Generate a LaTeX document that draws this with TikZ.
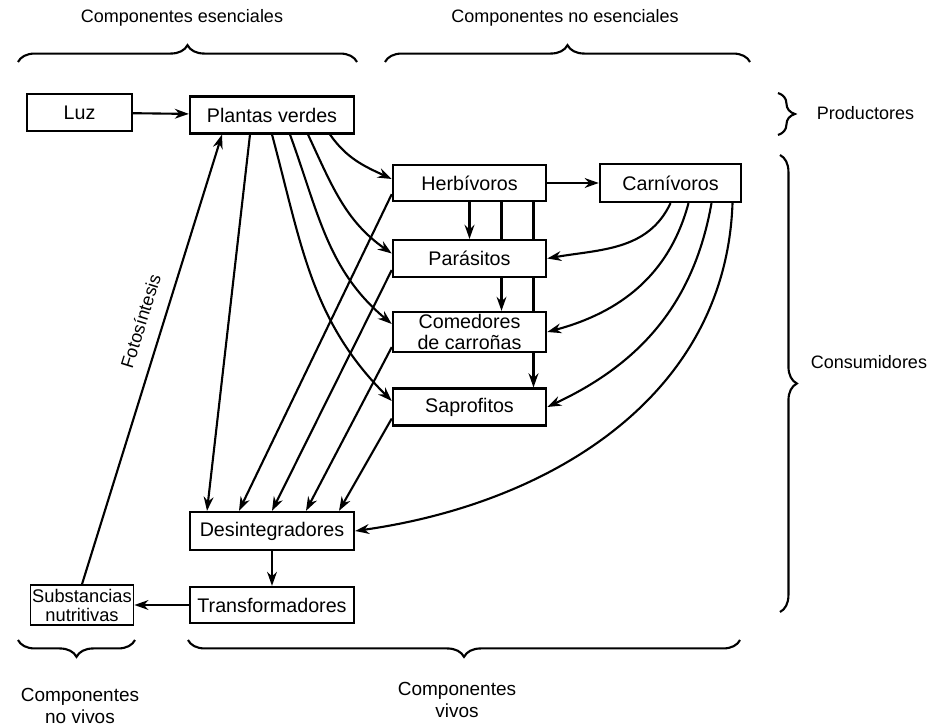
\documentclass[tikz,border=0pt]{standalone}
\usepackage{fontspec}
\setmainfont{Liberation Sans}
\usetikzlibrary{positioning,calc,arrows.meta,decorations.pathreplacing}

\begin{document}
\begin{tikzpicture}[
    x=0.025cm, y=0.025cm,
    >={Stealth[length=10pt,width=7pt]},
    every node/.style={font=\fontsize{12.8}{14}\selectfont},
    box/.style={rectangle, draw=black, line width=1.6pt, fill=white, inner sep=1pt, minimum height=0.92cm, align=center, font=\fontsize{14}{14.5}\selectfont},
    flow/.style={->, line width=1.5pt},
    curly/.style={decorate, decoration={brace, amplitude=12pt}, line width=1.5pt},
  ]
  \useasboundingbox (0,0) rectangle (945,-728);

  % cajas
  \node[box, minimum width=2.62cm] (luz) at (79.5,-112.5) {Luz};
  \node[box, minimum width=4.1cm] (plantas) at (272,-115) {Plantas verdes};
  \node[box, minimum width=3.83cm, minimum height=0.9cm] (herb) at (469.5,-183) {Herbívoros};
  \node[box, minimum width=3.53cm, minimum height=0.95cm] (carn) at (670.5,-183) {Carnívoros};
  \node[box, minimum width=3.83cm] (para) at (469.5,-258.5) {Parásitos};
  \node[box, minimum width=3.83cm, minimum height=1cm] (come) at (469.5,-332) {Comedores\\de carroñas};
  \node[box, minimum width=3.83cm] (sapro) at (469.5,-407) {Saprofitos};
  \node[box, minimum width=4.1cm, minimum height=0.95cm] (desin) at (272,-531) {Desintegradores};
  \node[box, minimum width=4.1cm, minimum height=0.9cm] (trans) at (272,-605) {Transformadores};
  \node[box, minimum width=2.58cm, minimum height=1cm, inner sep=0pt, line width=1.1pt, font=\fontsize{13}{13.5}\selectfont] (subst) at (82,-605) {Substancias\\nutritivas};

  % flechas
  \draw[flow] (luz) -- (plantas);
  \draw[flow] (herb) -- (carn);
  \draw[flow] ($(plantas.south)+(58,0)$) to[out=-55, in=155] ($(herb.west)+(0,4)$);
  \draw[flow] ($(plantas.south)+(36,0)$) to[out=-65, in=145] ($(para.west)+(0,5)$);
  \draw[flow] ($(plantas.south)+(18,0)$) to[out=-70, in=140] ($(come.west)+(0,8)$);
  \draw[flow] (plantas.south) to[out=-75, in=135] ($(sapro.west)+(0,6)$);
  \draw[flow] ($(plantas.south)+(-22,0)$) -- ($(desin.north)+(-65,0)$);
  \draw[flow] ($(herb.south west)+(0,8)$) -- ($(desin.north)+(-33,0)$);
  \draw[flow] ($(para.south west)+(0,8)$) -- (desin.north);
  \draw[flow] ($(come.south west)+(0,6)$) -- ($(desin.north)+(34,0)$);
  \draw[flow] ($(sapro.south west)+(0,8)$) -- ($(desin.north)+(67,0)$);

  \draw[flow] (herb.south) -- (para.north);
  \draw[line width=1.5pt] ($(herb.south)+(32,0)$) -- ($(para.north)+(32,0)$);
  \draw[flow] ($(para.south)+(32,0)$) -- ($(come.north)+(32,0)$);
  \draw[line width=1.5pt] ($(herb.south)+(64,0)$) -- ($(para.north)+(64,0)$);
  \draw[line width=1.5pt] ($(para.south)+(64,0)$) -- ($(come.north)+(64,0)$);
  \draw[flow] ($(come.south)+(64,0)$) -- ($(sapro.north)+(64,0)$);

  \draw[flow] (carn.south) to[out=-115, in=10] (para.east);
  \draw[flow] ($(carn.south)+(18,0)$) to[out=-105, in=15] (come.east);
  \draw[flow] ($(carn.south)+(41,0)$) to[out=-100, in=25] (sapro.east);
  \draw[flow] ($(carn.south)+(62,0)$) to[out=-92, in=8] (desin.east);

  \draw[flow] (desin) -- (trans);
  \draw[flow] (trans) -- (subst);
  \draw[flow] (subst.north) -- node[sloped, above=7pt, pos=0.57] {Fotosíntesis} ($(plantas.south)+(-50,0)$);

  % llaves
  \draw[curly] (18,-62) coordinate (e1) -- (357,-62) coordinate (e2);
  \draw[curly] (385,-62) coordinate (n1) -- (750,-62) coordinate (n2);
  \node (esen) at (182,-18) {Componentes esenciales};
  \node (noesen) at (565,-18) {Componentes no esenciales};

  \draw[curly] (778,-93) coordinate (p1) -- (778,-135) coordinate (p2);
  \node[anchor=west] (prod) at (812,-113) {Productores};
  \draw[curly] (780,-155) coordinate (c1) -- (780,-612) coordinate (c2);
  \node[anchor=west] (cons) at (806,-362) {Consumidores};

  \draw[curly] (135,-640) coordinate (v1) -- (18,-640) coordinate (v2);
  \node[align=center, font=\fontsize{13.5}{16}\selectfont] (novivos) at (80,-706) {Componentes\\no vivos};
  \draw[curly] (740,-640) coordinate (w1) -- (188,-640) coordinate (w2);
  \node[align=center, font=\fontsize{13.5}{16}\selectfont] (vivos) at (457,-700) {Componentes\\vivos};
\end{tikzpicture}
\end{document}
